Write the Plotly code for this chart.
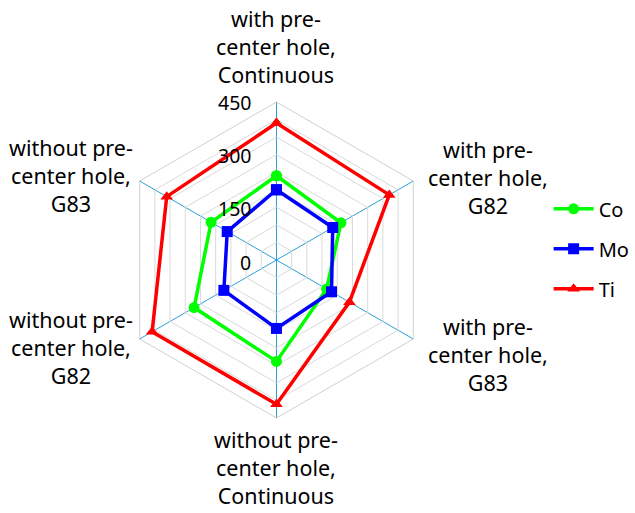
import math
import plotly.graph_objects as go

categories = [
    "with pre-<br>center hole,<br>Continuous",
    "with pre-<br>center hole,<br>G82",
    "with pre-<br>center hole,<br>G83",
    "without pre-<br>center hole,<br>Continuous",
    "without pre-<br>center hole,<br>G82",
    "without pre-<br>center hole,<br>G83",
]
co = [240, 212, 165, 289, 271, 215]
mo = [200, 185, 181, 195, 173, 162]
ti = [390, 371, 240, 411, 409, 361]
grid_ticks = [0, 50, 100, 150, 200, 250, 300, 350, 400, 450]
label_ticks = [0, 150, 300, 450]

series = [
    ("Co", co, "#00FF00", "circle"),
    ("Mo", mo, "#0000FF", "square"),
    ("Ti", ti, "#FF0000", "triangle-up"),
]

W, H = 635, 513
cx, cy, R = 280, 253, 160  # polar centre (px from left / bottom) and radius
RMAX = 450

fig = go.Figure()
for name, vals, color, sym in series:
    fig.add_trace(go.Scatterpolar(
        r=vals + vals[:1], theta=categories + categories[:1],
        mode="lines+markers", name=name, legendgroup=name,
        line=dict(color=color, width=3.5),
        marker=dict(color=color, symbol=sym, size=11),
    ))

annotations = []
# category labels placed just outside each hexagon vertex
n = len(categories)
for i, cat in enumerate(categories):
    ang = math.radians(90 - 360 * i / n)
    vx = cx + R * math.cos(ang)
    vy = cy + R * math.sin(ang)
    c = math.cos(ang)
    s = math.sin(ang)
    if abs(c) < 1e-6:
        xa, ya = "center", ("bottom" if s > 0 else "top")
        xs, ys = 0, (10 if s > 0 else -4)
    elif c > 0:
        xa, ya = "left", "middle"
        xs, ys = 14, (3 if s > 0 else -14)
    else:
        xa, ya = "right", "middle"
        xs, ys = -6, (5 if s > 0 else -7)
    annotations.append(dict(
        x=vx / W, y=vy / H, xref="paper", yref="paper",
        text=cat, showarrow=False, xanchor=xa, yanchor=ya, align="center",
        xshift=xs, yshift=ys, font=dict(size=21.5), borderpad=0,
    ))

# radial value labels, right-aligned to the left of the vertical axis
for v in label_ticks:
    annotations.append(dict(
        x=cx / W, y=(cy + R * v / RMAX) / H, xref="paper", yref="paper",
        text=str(v), showarrow=False, xanchor="right", yanchor="middle",
        xshift=-24, yshift=-2, font=dict(size=19.5), borderpad=0,
    ))

fig.update_layout(
    width=W, height=H,
    margin=dict(l=0, r=0, t=0, b=0),
    paper_bgcolor="white",
    font=dict(family="Noto Sans", size=19, color="#000000"),
    annotations=annotations,
    polar=dict(
        domain=dict(x=[(cx - R) / W, (cx + R) / W], y=[(cy - R) / H, (cy + R) / H]),
        bgcolor="white",
        gridshape="linear",
        radialaxis=dict(
            range=[0, RMAX], angle=90,
            tickvals=grid_ticks, showticklabels=False,
            showline=False, ticks="",
            gridcolor="#DADADA", gridwidth=1,
        ),
        angularaxis=dict(
            direction="clockwise", rotation=90,
            gridcolor="#2E9FD8", gridwidth=1,
            linecolor="#D0D0D0", linewidth=1, ticks="",
            showticklabels=False,
        ),
    ),
    legend=dict(x=0.875, y=0.515, yanchor="middle", xanchor="left",
                font=dict(size=20), tracegroupgap=11, itemwidth=40),
)

fig.write_html("out.html")
